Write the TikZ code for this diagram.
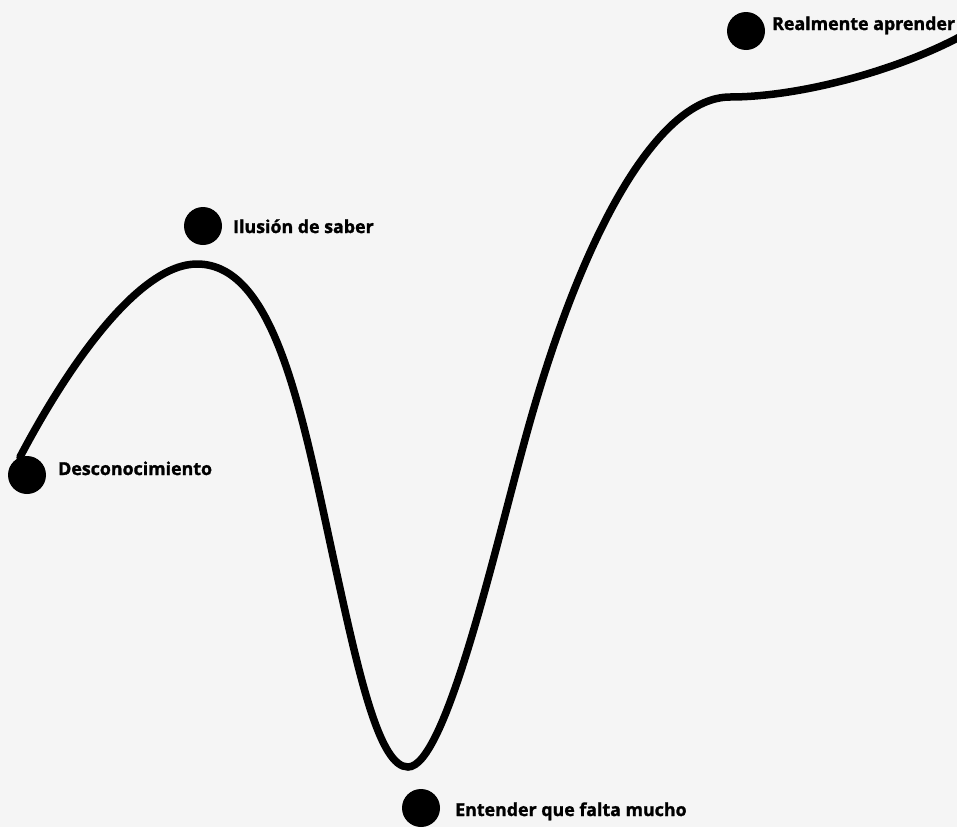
\documentclass[tikz,border=0pt]{standalone}
\usepackage{fontspec}
\setmainfont{Open Sans}[BoldFeatures={FakeBold=1.5}]
\usetikzlibrary{positioning}
\definecolor{paper}{HTML}{F5F5F5}

\begin{document}
\begin{tikzpicture}[x=1pt, y=-1pt,
    dot/.style={circle, fill=black, minimum size=38pt, inner sep=0pt},
    etapa/.style={anchor=base west, inner sep=0pt, font=\fontsize{17.8}{20}\selectfont\bfseries}
]
    \fill[paper] (0,0) rectangle (957,827);
    \useasboundingbox (0,0) rectangle (957,827);

    % the learning curve
    \draw[line width=7.5pt, line cap=round]
        (20,457) .. controls (70,362) and (140,264) .. (197,264)
                 .. controls (277,264) and (303,420) .. (336,570)
                 .. controls (360,680) and (380,767) .. (408,767)
                 .. controls (445,767) and (493,557) .. (523,447)
                 .. controls (582,227) and (660,97) .. (730,97)
                 .. controls (800,97) and (900,70) .. (965,34);

    \node (desconocimiento) [dot] at (27,475) {};
    \node (ilusion) [dot] at (203,226) {};
    \node (entender) [dot] at (421,808) {};
    \node (aprender) [dot] at (746,31) {};

    \node (desconocimiento_txt) [etapa] at (58,475) {Desconocimiento};
    \node (ilusion_txt) [etapa] at (233,233) {Ilusión de saber};
    \node (entender_txt) [etapa] at (455,816) {Entender que falta mucho};
    \node (aprender_txt) [etapa] at (772,30) {Realmente aprender};
\end{tikzpicture}
\end{document}
